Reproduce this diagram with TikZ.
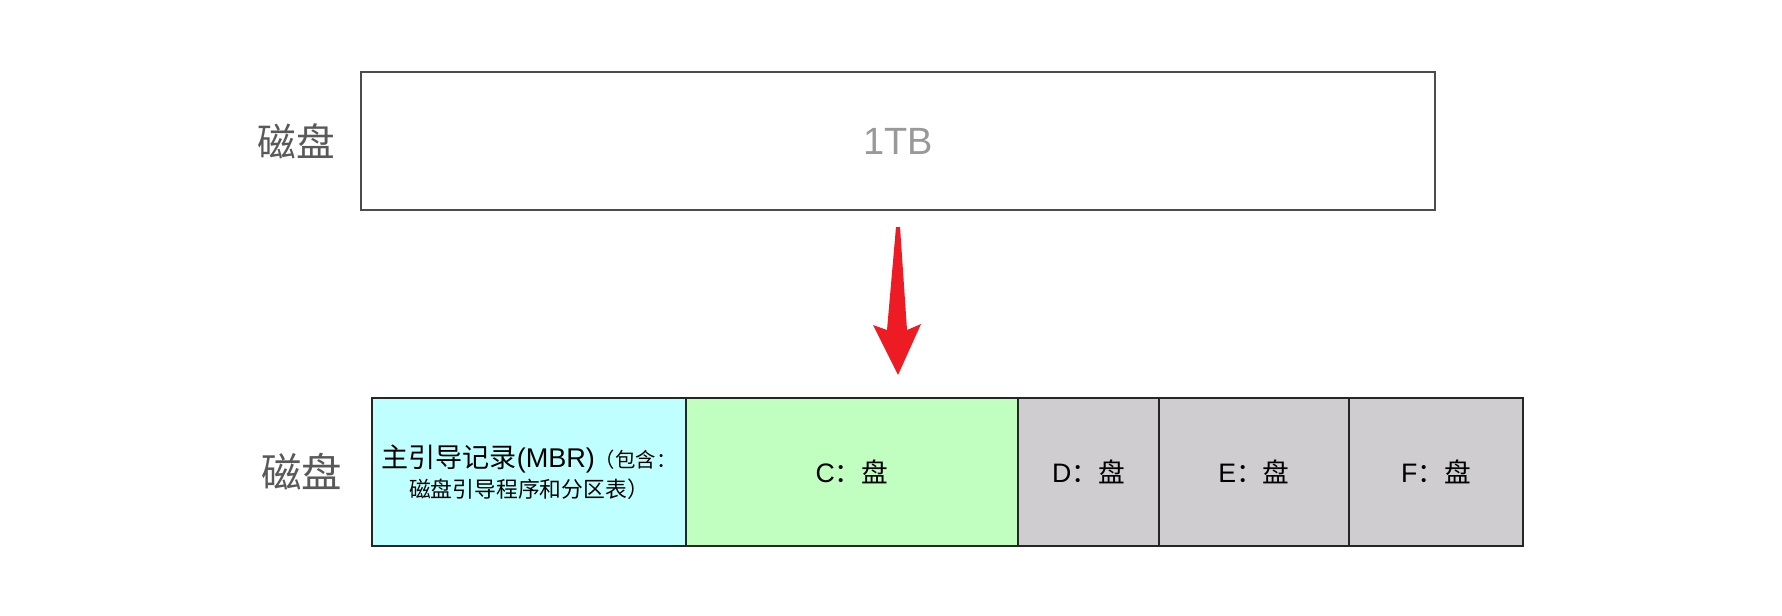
\documentclass[tikz,border=0pt]{standalone}
\usepackage{fontspec}
\setmainfont{Liberation Sans}
\newfontfamily\cjk{Noto Sans CJK SC}
\usepackage{tikz}
\usetikzlibrary{positioning, calc}
\definecolor{mbrcyan}{RGB}{192, 255, 255}
\definecolor{partgreen}{RGB}{192, 255, 192}
\definecolor{partgray}{RGB}{207, 205, 208}
\definecolor{arrowred}{RGB}{237, 28, 36}

\begin{document}
\begin{tikzpicture}[
  part/.style={rectangle, draw=black!85, line width=0.6pt,
               minimum height=1.48cm, inner sep=0pt, outer sep=0pt,
               text centered, font=\fontsize{7.6}{9}\selectfont},
  side/.style={inner sep=0pt, text=black!65},
  redarrow/.style={fill=arrowred},
  node distance=0.3cm
]
\useasboundingbox[fill=white] (0,0) rectangle (17.82,-6.15);

% whole disk
\node[part, minimum width=10.74cm, minimum height=1.38cm, draw=black!70,
      text=black!40, font=\fontsize{10.8}{12}\selectfont] (disk) at (8.98,-1.41) {1TB};
\node[side, font=\cjk\fontsize{11}{13}\selectfont, left=0.25cm of disk] (lbltop) {磁盘};

% partitioned disk
\node[part, fill=mbrcyan, minimum width=3.14cm, align=center] (mbr) at (5.29,-4.72)
  {{\cjk\fontsize{7.7}{9}\selectfont 主引导记录}{\fontsize{7.7}{9}\selectfont (MBR)}{\cjk\fontsize{5.8}{7}\selectfont （包含：}\\[-0.5pt]
   {\cjk\fontsize{6.2}{8}\selectfont 磁盘引导程序和分区表）}};
\node[part, fill=partgreen, minimum width=3.32cm, right=0pt of mbr] (cdisk) {C{\cjk ：盘}};
\node[part, fill=partgray, minimum width=1.41cm, right=0pt of cdisk] (ddisk) {D{\cjk ：盘}};
\node[part, fill=partgray, minimum width=1.90cm, right=0pt of ddisk] (edisk) {E{\cjk ：盘}};
\node[part, fill=partgray, minimum width=1.74cm, right=0pt of edisk] (fdisk) {F{\cjk ：盘}};
\node[side, font=\cjk\fontsize{11.5}{13}\selectfont, left=0.29cm of mbr] (lblbot) {磁盘};

% split arrow
\coordinate (arrtop) at ($(disk.south)+(0,-0.16)$);
\coordinate (arrtip) at ($(arrtop |- cdisk.north)+(0,0.23)$);
\fill[redarrow] ($(arrtop)+(-0.02,-0.01)$) -- ($(arrtip)+(-0.11,0.45)$)
  -- ($(arrtip)+(-0.25,0.50)$) -- (arrtip) -- ($(arrtip)+(0.23,0.51)$)
  -- ($(arrtip)+(0.09,0.45)$) -- ($(arrtop)+(0.02,-0.01)$) -- cycle;

\end{tikzpicture}
\end{document}
